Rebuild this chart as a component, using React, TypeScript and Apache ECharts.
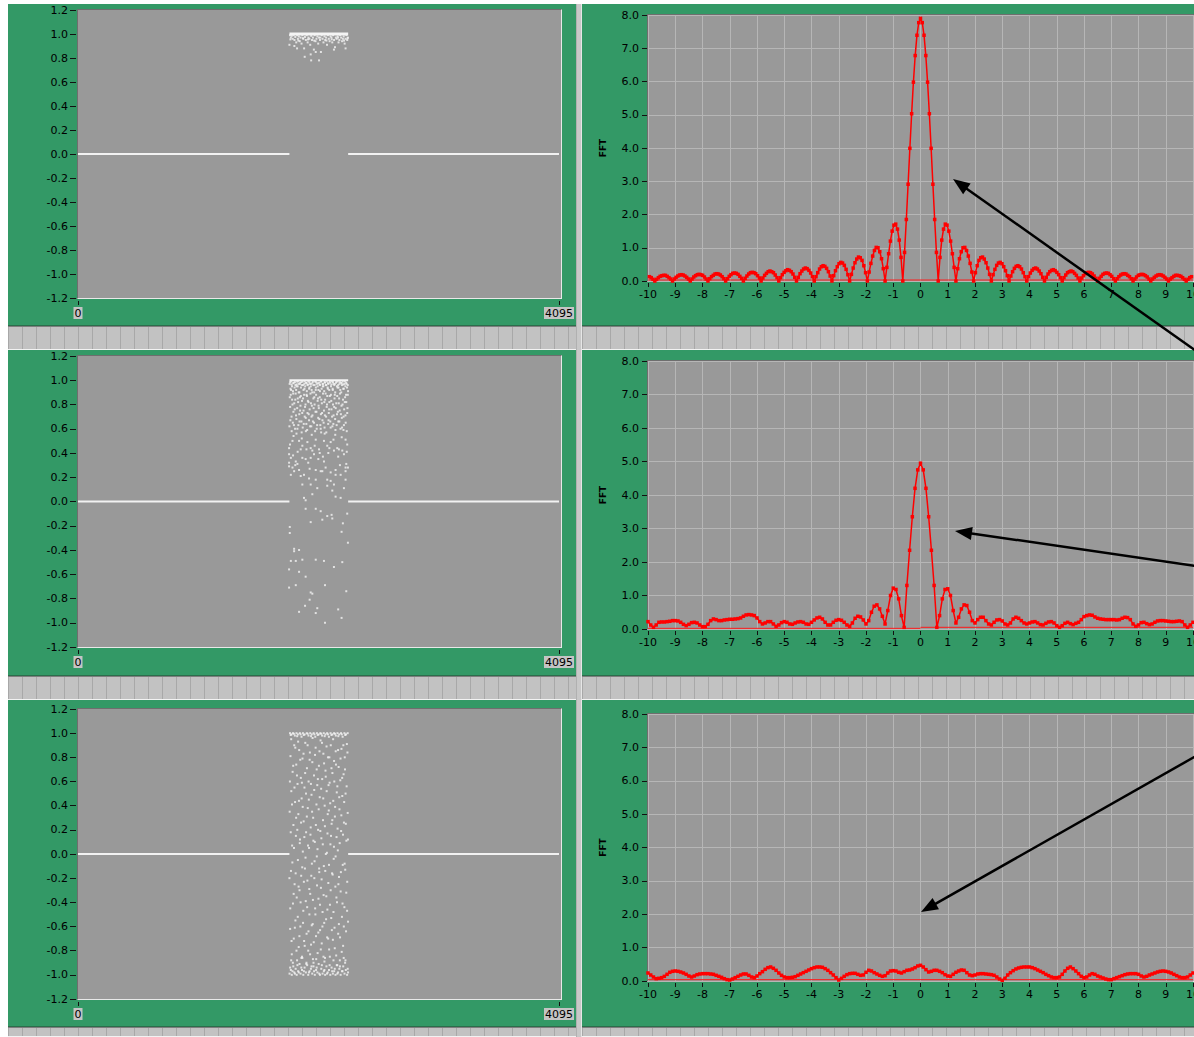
import React, { useEffect, useRef } from "react";
import * as echarts from "echarts";

// ---------------- DATA ----------------
// Left column: time-domain samples (index 0..4095)
const SAMPLE_MIN = 0;
const SAMPLE_MAX = 4095;
const SIGNAL_Y_MIN = -1.2;
const SIGNAL_Y_MAX = 1.2;
const SIGNAL_Y_STEP = 0.2;

// Runs of samples where the signal is exactly zero
const ZERO_RUNS: number[][] = [[0, 1800], [2300, 4095]];
// Run of samples clipped at 1.0 (dense band) in rows 1 and 2
const CLIPPED_RUN = [1800, 2300];
const CLIPPED_LEVEL = 1.0;

const SCATTER_1: number[][] = [
  [1805,0.99],[1812,0.97],[1820,0.985],[1828,0.96],[1835,0.99],[1843,0.95],[1850,0.975],[1858,0.93],[1866,0.99],[1872,0.96],
  [1880,0.98],[1888,0.94],[1895,0.97],[1903,0.92],[1910,0.99],[1918,0.96],[1925,0.88],[1932,0.975],[1940,0.95],[1947,0.99],
  [1955,0.93],[1962,0.97],[1970,0.96],[1977,0.91],[1985,0.985],[1992,0.95],[2000,0.97],[2008,0.87],[2015,0.99],[2022,0.94],
  [2030,0.96],[2038,0.98],[2045,0.92],[2052,0.97],[2060,0.95],[2068,0.85],[2075,0.99],[2082,0.96],[2090,0.93],[2098,0.98],
  [2105,0.95],[2112,0.97],[2120,0.91],[2128,0.99],[2135,0.96],[2142,0.94],[2150,0.98],[2158,0.97],[2165,0.93],[2172,0.99],
  [2180,0.95],[2188,0.89],[2195,0.97],[2202,0.96],[2210,0.98],[2218,0.93],[2225,0.95],[2232,0.99],[2240,0.97],[2248,0.94],
  [2255,0.96],[2262,0.98],[2270,0.92],[2278,0.96],[2285,0.99],[2292,0.95],[2298,0.97],[1800,0.91],[1865,0.88],[1930,0.81],
  [1981,0.83],[1985,0.78],[2024,0.85],[2052,0.78],[2179,0.87],[2278,0.88],[1842,0.9],[1808,0.955],[1876,0.945],[1915,0.965],
  [1958,0.955],[2011,0.945],[2063,0.97],[2115,0.945],[2160,0.955],[2214,0.97],[2265,0.945],[2295,0.965]
];

const SCATTER_2: number[][] = [
  // 0.9 .. 1.0
  [1802,0.97],[1809,0.93],[1815,0.99],[1822,0.95],[1830,0.91],[1836,0.98],[1844,0.94],[1851,0.96],[1857,0.92],[1864,0.99],
  [1870,0.95],[1878,0.97],[1885,0.9],[1892,0.98],[1898,0.94],[1905,0.96],[1912,0.99],[1920,0.92],[1927,0.97],[1934,0.95],
  [1941,0.98],[1948,0.91],[1954,0.96],[1960,0.99],[1968,0.93],[1975,0.97],[1982,0.95],[1989,0.92],[1996,0.98],[2004,0.96],
  [2011,0.9],[2018,0.99],[2025,0.94],[2032,0.97],[2040,0.95],[2047,0.92],[2054,0.98],[2061,0.96],[2067,0.99],[2074,0.93],
  [2082,0.97],[2089,0.95],[2096,0.91],[2103,0.98],[2110,0.96],[2118,0.99],[2125,0.94],[2132,0.97],[2139,0.92],[2146,0.98],
  [2154,0.95],[2161,0.99],[2168,0.93],[2175,0.97],[2182,0.96],[2190,0.9],[2197,0.98],[2204,0.95],[2211,0.99],[2218,0.94],
  [2226,0.97],[2233,0.92],[2240,0.98],[2247,0.96],[2254,0.99],[2262,0.93],[2269,0.97],[2276,0.95],[2283,0.98],[2290,0.94],
  [2297,0.96],
  [1806,0.985],[1818,0.965],[1833,0.975],[1847,0.985],[1861,0.965],[1875,0.99],[1889,0.97],[1902,0.985],[1916,0.96],[1930,0.99],
  [1945,0.975],[1958,0.965],[1971,0.985],[1986,0.97],[2000,0.99],[2014,0.96],[2028,0.985],[2043,0.975],[2057,0.965],[2071,0.99],
  [2086,0.97],[2100,0.985],[2114,0.96],[2128,0.975],[2143,0.99],[2157,0.965],[2171,0.985],[2186,0.97],[2200,0.99],[2215,0.96],
  [2229,0.985],[2244,0.975],[2258,0.965],[2272,0.99],[2287,0.97],
  // 0.55 .. 0.95
  [1800,0.62],[1806,0.78],[1811,0.88],[1818,0.7],[1823,0.84],[1829,0.65],[1834,0.74],[1841,0.81],[1848,0.6],[1853,0.89],
  [1859,0.68],[1866,0.77],[1871,0.85],[1876,0.63],[1884,0.72],[1889,0.86],[1894,0.79],[1902,0.66],[1907,0.83],[1913,0.61],
  [1920,0.75],[1925,0.88],[1930,0.7],[1937,0.8],[1944,0.64],[1949,0.87],[1954,0.73],[1962,0.82],[1967,0.67],[1972,0.76],
  [1979,0.89],[1986,0.62],[1991,0.79],[1996,0.71],[2004,0.85],[2009,0.65],[2014,0.8],[2022,0.74],[2027,0.88],[2032,0.6],
  [2040,0.83],[2045,0.69],[2050,0.77],[2058,0.86],[2063,0.63],[2068,0.72],[2076,0.81],[2081,0.67],[2086,0.89],[2094,0.75],
  [2099,0.61],[2104,0.84],[2112,0.7],[2117,0.78],[2122,0.87],[2130,0.64],[2135,0.73],[2140,0.82],[2148,0.66],[2153,0.88],
  [2158,0.76],[2166,0.62],[2171,0.8],[2176,0.71],[2184,0.85],[2189,0.68],[2194,0.77],[2202,0.63],[2207,0.87],[2212,0.74],
  [2220,0.81],[2225,0.66],[2230,0.89],[2238,0.72],[2243,0.79],[2248,0.61],[2256,0.84],[2261,0.7],[2266,0.76],[2274,0.86],
  [2279,0.65],[2284,0.82],[2292,0.73],[2297,0.88],
  [1803,0.86],[1808,0.67],[1814,0.92],[1819,0.58],[1826,0.8],[1832,0.89],[1838,0.63],[1845,0.76],[1850,0.84],[1856,0.71],
  [1861,0.95],[1868,0.6],[1874,0.82],[1879,0.9],[1886,0.66],[1891,0.75],[1897,0.87],[1904,0.57],[1909,0.73],[1916,0.85],
  [1922,0.64],[1928,0.93],[1933,0.78],[1939,0.69],[1946,0.88],[1951,0.59],[1957,0.83],[1964,0.72],[1970,0.94],[1976,0.62],
  [1983,0.81],[1988,0.7],[1994,0.9],[2000,0.66],[2006,0.77],[2012,0.86],[2019,0.58],[2024,0.92],[2030,0.74],[2036,0.63],
  [2043,0.85],[2048,0.79],[2055,0.68],[2060,0.91],[2066,0.6],[2071,0.84],[2078,0.73],[2084,0.95],[2091,0.65],[2097,0.82],
  [2102,0.71],[2108,0.89],[2114,0.57],[2120,0.8],[2127,0.93],[2133,0.67],[2138,0.76],[2144,0.87],[2151,0.61],[2156,0.83],
  [2163,0.7],[2169,0.92],[2174,0.64],[2181,0.78],[2186,0.88],[2192,0.59],[2199,0.81],[2205,0.72],[2210,0.94],[2216,0.66],
  [2223,0.85],[2228,0.75],[2235,0.6],[2241,0.9],[2246,0.69],[2252,0.8],[2259,0.93],[2264,0.63],[2271,0.82],[2277,0.71],
  [2282,0.88],[2288,0.58],[2294,0.77],[2299,0.91],
  // 0.2 .. 0.6
  [1797,0.39],[1812,0.36],[1831,0.38],[1854,0.33],[1868,0.31],[1910,0.36],[1938,0.35],[1981,0.36],[2009,0.39],[2046,0.35],
  [2094,0.33],[2131,0.4],[2179,0.42],[2221,0.43],[2264,0.39],[2284,0.31],[2298,0.28],[1840,0.25],[1896,0.21],[1924,0.22],
  [1972,0.27],[2024,0.26],[2066,0.25],[2108,0.28],[2151,0.24],[2193,0.26],[2236,0.22],[2278,0.25],[1896,0.43],[1995,0.42],
  [2052,0.43],[2122,0.46],[2207,0.44],[2250,0.42],[1826,0.5],[1882,0.5],[1953,0.49],[2024,0.51],[2094,0.5],[2151,0.49],
  [2278,0.51],[1797,0.44],[1910,0.46],[1981,0.44],[2292,0.47],[1860,0.56],[1940,0.58],[2070,0.57],[2190,0.55],[2260,0.59],
  [1805,0.47],[1835,0.54],[1870,0.41],[1905,0.52],[1945,0.43],[1990,0.55],[2015,0.46],[2058,0.4],[2100,0.56],[2140,0.44],
  [2175,0.51],[2215,0.37],[2245,0.53],[2288,0.41],[1850,0.3],[1960,0.32],[2085,0.37],[2230,0.3],
  // 0 .. 0.3
  [1910,0.14],[1981,0.14],[2037,0.11],[2122,0.13],[2179,0.14],[2264,0.11],[1924,0.03],[1938,0.01],[2193,0.04],[2236,0.03],
  [1995,0.06],[2165,0.09],[2151,0.17],[2122,0.18],[1967,0.19],[2024,0.18],[1812,0.22],[2278,0.18],[1826,0.28],[1882,0.26],
  [2080,0.25],[2193,0.22],[2278,0.28],[1797,0.32],[1797,0.29],
  // below 0
  [1938,-0.06],[2024,-0.06],[2066,-0.08],[2122,-0.12],[2165,-0.14],[2080,-0.15],[2159,-0.11],[2292,-0.1],[1981,-0.17],[1803,-0.21],
  [1803,-0.26],[2255,-0.18],[2244,-0.25],[2298,-0.34],[1840,-0.39],[1882,-0.4],[1840,-0.41],[1854,-0.49],[1910,-0.48],[2024,-0.48],
  [2094,-0.49],[1812,-0.49],[2250,-0.5],[2179,-0.54],[1797,-0.56],[1882,-0.58],[1938,-0.62],[1797,-0.71],[1854,-0.69],[2103,-0.69],
  [2284,-0.74],[1981,-0.75],[1995,-0.76],[1972,-0.81],[1933,-0.86],[2037,-0.88],[1882,-0.91],[2215,-0.89],[2024,-0.92],[2244,-0.96],
  [2103,-1.0]
];

const SCATTER_3: number[][] = [
  // top edge
  [1805,1.0],[1818,0.99],[1830,1.0],[1846,0.98],[1860,1.0],[1872,0.99],[1889,1.0],[1903,0.97],[1915,1.0],[1930,0.99],
  [1948,1.0],[1962,0.98],[1977,1.0],[1990,0.99],[2006,1.0],[2020,0.97],[2034,1.0],[2049,0.99],[2063,1.0],[2078,0.98],
  [2092,1.0],[2107,0.99],[2121,1.0],[2136,0.97],[2150,1.0],[2166,0.99],[2180,1.0],[2195,0.98],[2209,1.0],[2224,0.99],
  [2239,1.0],[2253,0.97],[2268,1.0],[2282,0.99],[2296,1.0],
  [1811,0.985],[1838,0.995],[1866,0.975],[1895,0.99],[1922,0.985],[1955,0.995],[1984,0.975],[2013,0.99],[2041,0.985],[2070,0.995],
  [2100,0.975],[2128,0.99],[2158,0.985],[2188,0.995],[2216,0.975],[2246,0.99],[2275,0.985],
  // bottom edge
  [1801,-0.99],[1812,-0.96],[1820,-1.0],[1833,-0.93],[1841,-0.98],[1853,-0.95],[1862,-1.0],[1874,-0.97],[1886,-0.91],[1895,-0.99],
  [1907,-0.96],[1918,-1.0],[1929,-0.94],[1940,-0.98],[1951,-0.92],[1960,-1.0],[1972,-0.97],[1983,-0.95],[1994,-0.99],[2005,-0.93],
  [2016,-1.0],[2027,-0.96],[2038,-0.98],[2049,-0.91],[2060,-1.0],[2071,-0.95],[2082,-0.99],[2093,-0.97],[2104,-1.0],[2115,-0.93],
  [2126,-0.98],[2137,-0.96],[2148,-1.0],[2159,-0.94],[2170,-0.99],[2181,-0.97],[2192,-1.0],[2203,-0.92],[2214,-0.98],[2225,-0.95],
  [2236,-1.0],[2247,-0.97],[2258,-0.93],[2269,-0.99],[2280,-0.96],[2291,-1.0],[2299,-0.98],
  [1806,-0.94],[1826,-0.97],[1847,-0.99],[1868,-0.92],[1880,-0.98],[1901,-0.94],[1923,-0.97],[1945,-0.9],[1966,-0.98],[1988,-0.93],
  [2010,-0.97],[2032,-0.94],[2054,-0.99],[2076,-0.92],[2098,-0.96],[2120,-0.99],[2142,-0.92],[2164,-0.97],[2186,-0.95],[2208,-0.99],
  [2230,-0.93],[2252,-0.97],[2274,-0.9],[2296,-0.95],[1815,-0.88],[1910,-0.86],[2000,-0.87],[2090,-0.85],[2175,-0.88],[2262,-0.86],
  // interior
  [1802,0.35],[1806,-0.62],[1809,0.81],[1813,-0.14],[1816,0.52],[1820,-0.83],[1823,0.07],[1827,0.68],[1830,-0.41],[1834,0.24],
  [1837,-0.7],[1841,0.9],[1844,-0.25],[1848,0.43],[1851,-0.55],[1855,0.15],[1858,0.74],[1862,-0.36],[1865,-0.88],[1869,0.58],
  [1872,-0.05],[1876,0.33],[1879,-0.77],[1883,0.86],[1886,-0.3],[1890,0.12],[1893,-0.6],[1897,0.63],[1900,-0.18],[1904,0.46],
  [1907,-0.85],[1911,0.79],[1914,0.02],[1918,-0.47],[1921,0.27],[1925,-0.72],[1928,0.55],[1932,-0.12],[1935,0.92],[1939,-0.39],
  [1942,0.18],[1946,-0.66],[1949,0.71],[1953,-0.22],[1956,0.38],[1960,-0.8],[1963,0.6],[1967,0.05],[1970,-0.5],[1974,0.84],
  [1977,-0.33],[1981,0.22],[1984,-0.75],[1988,0.49],[1991,-0.08],[1995,0.76],[1998,-0.58],[2002,0.3],[2005,-0.9],[2009,0.65],
  [2012,-0.2],[2016,0.1],[2019,-0.45],[2023,0.88],[2026,-0.68],[2030,0.41],[2033,-0.02],[2037,0.57],[2040,-0.82],[2044,0.2],
  [2047,-0.37],[2051,0.73],[2054,-0.15],[2058,0.47],[2061,-0.63],[2065,0.94],[2068,-0.28],[2072,0.13],[2075,-0.74],[2079,0.62],
  [2082,-0.48],[2086,0.28],[2089,0.83],[2093,-0.1],[2096,-0.57],[2100,0.4],[2103,-0.86],[2107,0.69],[2110,0.0],[2114,-0.35],
  [2117,0.52],[2121,-0.69],[2124,0.17],[2128,0.8],[2131,-0.24],[2135,0.36],[2138,-0.79],[2142,0.59],[2145,-0.42],[2149,0.08],
  [2152,0.9],[2156,-0.53],[2159,0.25],[2163,-0.16],[2166,0.67],[2170,-0.71],[2173,0.44],[2177,-0.04],[2180,0.77],[2184,-0.61],
  [2187,0.31],[2191,-0.27],[2194,0.85],[2198,-0.84],[2201,0.14],[2205,-0.4],[2208,0.56],[2212,0.03],[2215,-0.66],[2219,0.72],
  [2222,-0.19],[2226,0.37],[2229,-0.88],[2233,0.61],[2236,-0.31],[2240,0.19],[2243,0.87],[2247,-0.52],[2250,0.48],[2254,-0.09],
  [2257,-0.76],[2261,0.66],[2264,0.26],[2268,-0.44],[2271,0.8],[2275,-0.13],[2278,0.5],[2282,-0.64],[2285,0.11],[2289,0.91],
  [2292,-0.23],[2296,0.34],[2299,-0.56],
  [1800,-0.2],[1804,0.6],[1807,-0.45],[1811,0.18],[1815,0.95],[1818,-0.72],[1822,0.41],[1825,-0.07],[1829,-0.9],[1832,0.73],
  [1836,-0.33],[1839,0.05],[1843,0.55],[1846,-0.61],[1850,0.88],[1853,-0.16],[1857,0.3],[1860,-0.8],[1864,0.65],[1867,0.2],
  [1871,-0.52],[1874,0.93],[1878,-0.27],[1881,0.44],[1885,-0.68],[1888,0.09],[1892,0.78],[1895,-0.4],[1899,0.26],[1902,-0.86],
  [1906,0.59],[1909,-0.11],[1913,0.39],[1916,-0.57],[1920,0.83],[1923,-0.23],[1927,0.14],[1930,-0.76],[1934,0.67],[1937,-0.03],
  [1941,0.5],[1944,-0.91],[1948,0.31],[1951,-0.44],[1955,0.9],[1958,0.07],[1962,-0.64],[1965,0.45],[1969,-0.29],[1972,0.78],
  [1976,-0.83],[1979,0.16],[1983,0.58],[1986,-0.18],[1990,-0.59],[1993,0.35],[1997,0.96],[2000,-0.38],[2004,0.11],[2007,-0.73],
  [2011,0.53],[2014,-0.06],[2018,0.82],[2021,-0.5],[2025,0.24],[2028,-0.87],[2032,0.7],[2035,-0.26],[2039,0.04],[2042,0.62],
  [2046,-0.65],[2049,0.37],[2053,-0.12],[2056,0.85],[2060,-0.42],[2063,0.19],[2067,-0.79],[2070,0.54],[2074,-0.21],[2077,0.92],
  [2081,-0.6],[2084,0.08],[2088,0.46],[2091,-0.34],[2095,0.75],[2098,-0.89],[2102,0.23],[2105,-0.14],[2109,0.64],[2112,-0.54],
  [2116,0.89],[2119,0.01],[2123,-0.46],[2126,0.33],[2130,-0.7],[2133,0.57],[2137,-0.09],[2140,0.8],[2144,-0.85],[2147,0.42],
  [2151,-0.3],[2154,0.15],[2158,0.71],[2161,-0.63],[2165,0.28],[2168,-0.17],[2172,0.95],[2175,-0.48],[2179,0.06],[2182,0.6],
  [2186,-0.78],[2189,0.39],[2193,-0.02],[2196,0.74],[2200,-0.36],[2203,0.51],[2207,-0.92],[2210,0.21],[2214,0.86],[2217,-0.25],
  [2221,-0.58],[2224,0.47],[2228,0.09],[2231,-0.69],[2235,0.79],[2238,-0.15],[2242,0.32],[2245,-0.81],[2249,0.63],[2252,-0.41],
  [2256,0.16],[2259,0.9],[2263,-0.6],[2266,0.43],[2270,-0.08],[2273,0.7],[2277,-0.88],[2280,0.25],[2284,-0.32],[2287,0.56],
  [2291,-0.47],[2294,0.84],[2298,0.12]
];

// Right column: FFT magnitude
const FFT_X_MIN = -10;
const FFT_X_MAX = 10;
const FFT_X_STEP = 1;
const FFT_Y_MIN = 0;
const FFT_Y_MAX = 8;
const FFT_Y_STEP = 1;

// Row 1 sampled at 0.065 starting at -9.945
const FFT_1_X0 = -9.945;
const FFT_1_DX = 0.065;
const FFT_1: number[] = [
  0.13,0.10,0.05,
  0,0.05,0.10,0.14,0.16,0.17,0.17,0.14,0.10,0.06,
  0,0.06,0.11,0.15,0.18,0.19,0.18,0.15,0.11,0.06,
  0,0.06,0.12,0.16,0.19,0.20,0.19,0.17,0.12,0.06,
  0,0.07,0.13,0.17,0.21,0.22,0.21,0.18,0.13,0.07,
  0,0.07,0.14,0.19,0.23,0.24,0.23,0.20,0.14,0.08,
  0,0.08,0.15,0.21,0.25,0.26,0.25,0.22,0.16,0.09,
  0,0.09,0.17,0.23,0.28,0.30,0.28,0.25,0.18,0.10,
  0,0.10,0.19,0.26,0.31,0.34,0.32,0.28,0.21,0.11,
  0,0.11,0.22,0.30,0.36,0.39,0.37,0.32,0.24,0.13,
  0,0.13,0.25,0.36,0.43,0.46,0.44,0.38,0.28,0.15,
  0,0.16,0.31,0.43,0.52,0.56,0.54,0.47,0.35,0.19,
  0,0.20,0.39,0.55,0.66,0.72,0.70,0.62,0.46,0.25,
  0,0.27,0.53,0.75,0.92,1.01,1.00,0.88,0.67,0.37,
  0,0.41,0.82,1.20,1.50,1.68,1.71,1.56,1.23,0.71,
  0,0.86,1.85,2.91,3.99,5.03,5.98,6.78,7.39,7.77,
  7.90,
  7.77,7.39,6.78,5.98,5.03,3.99,2.91,1.85,0.86,0,
  0.71,1.23,1.56,1.71,1.68,1.50,1.20,0.82,0.41,0,
  0.37,0.67,0.88,1.00,1.01,0.92,0.75,0.53,0.27,0,
  0.25,0.46,0.62,0.70,0.72,0.66,0.55,0.39,0.20,0,
  0.19,0.35,0.47,0.54,0.56,0.52,0.43,0.31,0.16,0,
  0.15,0.28,0.38,0.44,0.46,0.43,0.36,0.25,0.13,0,
  0.13,0.24,0.32,0.37,0.39,0.36,0.30,0.22,0.11,0,
  0.11,0.21,0.28,0.32,0.34,0.31,0.26,0.19,0.10,0,
  0.10,0.18,0.25,0.28,0.30,0.28,0.23,0.17,0.09,0,
  0.09,0.16,0.22,0.25,0.26,0.25,0.21,0.15,0.08,0,
  0.08,0.14,0.20,0.23,0.24,0.23,0.19,0.14,0.07,0,
  0.07,0.13,0.18,0.21,0.22,0.21,0.17,0.13,0.07,0,
  0.06,0.12,0.17,0.19,0.20,0.19,0.16,0.12,0.06,0,
  0.06,0.11,0.15,0.18,0.19,0.18,0.15,0.11,0.06,0,
  0.06,0.10,0.14,0.17,0.17,0.16,0.14,0.10,0.05,0,
  0.05,0.10,0.13
];

// Rows 2 and 3 sampled at 0.1 from -10 to 10
const FFT_23_X0 = -10;
const FFT_23_DX = 0.1;
const FFT_2: number[] = [
  0.22,0.12,0.05,0.12,0.2,0.21,0.21,0.22,0.23,0.25,
  0.25,0.24,0.2,0.14,0.1,0.14,0.19,0.2,0.18,0.12,
  0.07,0.07,0.14,0.25,0.3,0.28,0.25,0.25,0.27,0.28,
  0.29,0.29,0.3,0.31,0.33,0.38,0.42,0.43,0.42,0.4,
  0.33,0.22,0.15,0.18,0.22,0.22,0.15,0.08,0.12,0.19,
  0.22,0.2,0.15,0.14,0.18,0.21,0.22,0.2,0.15,0.14,
  0.2,0.27,0.33,0.35,0.3,0.2,0.12,0.12,0.2,0.26,
  0.28,0.26,0.2,0.12,0.08,0.18,0.32,0.38,0.36,0.27,
  0.15,0.25,0.5,0.68,0.72,0.6,0.38,0.15,0.55,1.0,
  1.22,1.18,0.9,0.4,0.05,1.3,2.35,3.35,4.2,4.75,
  4.95,
  4.75,4.2,3.35,2.35,1.3,0.05,0.4,0.9,1.18,1.2,
  1.0,0.55,0.18,0.35,0.6,0.72,0.7,0.5,0.25,0.18,
  0.28,0.35,0.35,0.25,0.15,0.12,0.2,0.27,0.28,0.24,
  0.15,0.12,0.18,0.3,0.35,0.32,0.25,0.18,0.15,0.18,
  0.21,0.22,0.18,0.13,0.12,0.17,0.21,0.22,0.18,0.1,
  0.05,0.1,0.17,0.2,0.16,0.13,0.17,0.2,0.28,0.37,
  0.4,0.42,0.41,0.36,0.32,0.3,0.29,0.28,0.28,0.28,
  0.28,0.27,0.28,0.32,0.35,0.34,0.28,0.15,0.08,0.12,
  0.19,0.2,0.16,0.13,0.15,0.2,0.24,0.25,0.25,0.24,
  0.23,0.22,0.22,0.23,0.24,0.22,0.12,0.05,0.12,0.2
];
const FFT_3: number[] = [
  0.24,0.18,0.12,0.07,0.08,0.1,0.14,0.2,0.26,0.29,
  0.3,0.29,0.27,0.24,0.2,0.15,0.12,0.15,0.19,0.21,
  0.22,0.22,0.22,0.21,0.2,0.17,0.14,0.11,0.07,0.04,
  0.03,0.06,0.1,0.14,0.18,0.21,0.21,0.17,0.12,0.1,
  0.15,0.22,0.28,0.35,0.4,0.42,0.38,0.32,0.24,0.17,
  0.12,0.1,0.1,0.11,0.13,0.17,0.21,0.25,0.29,0.33,
  0.37,0.4,0.42,0.42,0.41,0.37,0.32,0.25,0.18,0.1,
  0.03,0.08,0.14,0.19,0.22,0.23,0.23,0.2,0.17,0.18,
  0.26,0.32,0.3,0.25,0.21,0.17,0.14,0.16,0.24,0.3,
  0.31,0.3,0.26,0.24,0.28,0.32,0.33,0.36,0.4,0.45,
  0.47,
  0.42,0.34,0.27,0.29,0.32,0.32,0.29,0.25,0.19,0.15,
  0.14,0.2,0.26,0.3,0.33,0.32,0.25,0.18,0.16,0.18,
  0.21,0.22,0.22,0.21,0.2,0.19,0.17,0.12,0.06,0.02,
  0.08,0.18,0.25,0.31,0.36,0.39,0.41,0.42,0.42,0.42,
  0.4,0.37,0.33,0.29,0.25,0.2,0.16,0.12,0.1,0.1,
  0.12,0.2,0.3,0.38,0.42,0.37,0.3,0.22,0.14,0.1,
  0.12,0.18,0.22,0.2,0.15,0.12,0.09,0.06,0.04,0.04,
  0.07,0.1,0.13,0.16,0.19,0.21,0.22,0.22,0.22,0.2,
  0.15,0.12,0.14,0.18,0.21,0.24,0.27,0.29,0.3,0.29,
  0.27,0.24,0.2,0.16,0.12,0.1,0.1,0.12,0.18,0.24
];

// Near-zero second trace (thin red line) per row, as segments
const FFT_FLOOR_1: number[][][] = [[[-10, 0.03], [10, 0.03]]];
const FFT_FLOOR_2: number[][][] = [[[-10, 0.02], [0, 0.02]], [[0, 0.05], [10, 0.05]]];
const FFT_FLOOR_3: number[][][] = [[[-10, 0.04], [10, 0.04]]];

const FFT_NAME = "FFT";

// ---------------- LAYOUT ----------------
const PAGE_W = 1194;
const PAGE_H = 1037;
const ROWS = [
  { panelTop: 4, panelBottom: 326, sigTop: 10, sigH: 288, fftTop: 15, fftH: 266 },
  { panelTop: 350, panelBottom: 676, sigTop: 356, sigH: 291, fftTop: 361, fftH: 268 },
  { panelTop: 700, panelBottom: 1027, sigTop: 709, sigH: 290, fftTop: 714, fftH: 267 },
];
const SEPARATORS = [
  { top: 326, height: 24 },
  { top: 676, height: 24 },
  { top: 1027, height: 10 },
];
const SIG_LEFT = 78;
const SIG_W = 481;
const FFT_LEFT = 648;
const FFT_W = 545;
const PANEL_L_X0 = 8;
const PANEL_L_X1 = 576;
const PANEL_R_X0 = 582;

const ARROWS = [
  { tail: [1196, 351], tip: [953, 179] },
  { tail: [1196, 566], tip: [955, 531] },
  { tail: [1196, 756], tip: [921, 912] },
];

const GREEN = "#339966";
const PLOT_BG = "#999999";
const FONT = "DejaVu Sans";

const SCATTERS = [SCATTER_1, SCATTER_2, SCATTER_3];
const BAND_WIDTHS = [3, 2, 0];
const FFT_SETS = [
  { values: FFT_1, x0: FFT_1_X0, dx: FFT_1_DX, floor: FFT_FLOOR_1 },
  { values: FFT_2, x0: FFT_23_X0, dx: FFT_23_DX, floor: FFT_FLOOR_2 },
  { values: FFT_3, x0: FFT_23_X0, dx: FFT_23_DX, floor: FFT_FLOOR_3 },
];

function fmt1(v: number) {
  const n = Math.abs(v) < 1e-9 ? 0 : v;
  return n.toFixed(1);
}

function arrowGraphics() {
  const out: any[] = [];
  ARROWS.forEach((a) => {
    const [tx, ty] = a.tip;
    const [sx, sy] = a.tail;
    const dx = sx - tx, dy = sy - ty;
    const L = Math.hypot(dx, dy);
    const ux = dx / L, uy = dy / L;
    const headLen = 17, half = 6.5;
    const bx = tx + ux * headLen, by = ty + uy * headLen;
    const px = -uy * half, py = ux * half;
    out.push({
      type: "line",
      z: 100,
      shape: { x1: bx - ux * 2, y1: by - uy * 2, x2: sx, y2: sy },
      style: { stroke: "#000", lineWidth: 2.5 },
      silent: true,
    });
    out.push({
      type: "polygon",
      z: 101,
      shape: { points: [[tx, ty], [bx + px, by + py], [bx - px, by - py]] },
      style: { fill: "#000" },
      silent: true,
    });
  });
  return out;
}

function buildOption() {
  const grid: any[] = [];
  const xAxis: any[] = [];
  const yAxis: any[] = [];
  const series: any[] = [];
  const labelStyle = { fontFamily: FONT, fontSize: 11, color: "#000" };

  ROWS.forEach((r, i) => {
    const gl = 2 * i;
    const gr = 2 * i + 1;
    grid.push({ left: SIG_LEFT, top: r.sigTop, width: SIG_W, height: r.sigH, show: false, containLabel: false, outerBoundsMode: "none" });
    grid.push({ left: FFT_LEFT, top: r.fftTop, width: FFT_W, height: r.fftH, show: false, containLabel: false, outerBoundsMode: "none" });

    xAxis.push({
      type: "value", gridIndex: gl, min: SAMPLE_MIN, max: SAMPLE_MAX, interval: SAMPLE_MAX - SAMPLE_MIN,
      position: "bottom", offset: 3, axisLine: { show: false, onZero: false },
      axisTick: { show: true, length: 4, lineStyle: { color: "#111" } },
      axisLabel: { ...labelStyle, margin: 6, backgroundColor: "#c4c4c4", padding: [1, 1, 0, 1], formatter: (v: number) => String(v) },
      splitLine: { show: false },
    });
    yAxis.push({
      type: "value", gridIndex: gl, min: SIGNAL_Y_MIN, max: SIGNAL_Y_MAX, interval: SIGNAL_Y_STEP,
      position: "left", offset: 2, axisLine: { show: false, onZero: false },
      axisTick: { show: true, length: 6, lineStyle: { color: "#111" } },
      axisLabel: { ...labelStyle, margin: 8, formatter: fmt1 },
      splitLine: { show: false },
    });
    xAxis.push({
      type: "value", gridIndex: gr, min: FFT_X_MIN, max: FFT_X_MAX, interval: FFT_X_STEP,
      position: "bottom", offset: 2, axisLine: { show: false, onZero: false },
      axisTick: { show: true, length: 4, lineStyle: { color: "#111" } },
      axisLabel: { ...labelStyle, margin: 6, formatter: (v: number) => String(v) },
      splitLine: { show: true, lineStyle: { color: "#b6b6b6", width: 1 } },
    });
    yAxis.push({
      type: "value", gridIndex: gr, min: FFT_Y_MIN, max: FFT_Y_MAX, interval: FFT_Y_STEP,
      position: "left", offset: 1, axisLine: { show: false, onZero: false },
      axisTick: { show: true, length: 5, lineStyle: { color: "#111" } },
      axisLabel: { ...labelStyle, margin: 8, formatter: fmt1 },
      splitLine: { show: true, lineStyle: { color: "#b6b6b6", width: 1 } },
      name: FFT_NAME, nameLocation: "middle", nameGap: 40, nameRotate: 90,
      nameTextStyle: { fontFamily: FONT, fontSize: 9, fontWeight: "bold", color: "#000" },
    });

    ZERO_RUNS.forEach((run) => {
      series.push({
        type: "line", xAxisIndex: gl, yAxisIndex: gl, silent: true,
        data: [[run[0], 0], [run[1], 0]], showSymbol: false,
        lineStyle: { color: "#f2f2f2", width: 2 },
      });
    });
    if (BAND_WIDTHS[i] > 0) {
      series.push({
        type: "line", xAxisIndex: gl, yAxisIndex: gl, silent: true,
        data: [[CLIPPED_RUN[0], CLIPPED_LEVEL], [CLIPPED_RUN[1], CLIPPED_LEVEL]], showSymbol: false,
        lineStyle: { color: "#f4f4f4", width: BAND_WIDTHS[i] },
      });
    }
    series.push({
      type: "scatter", xAxisIndex: gl, yAxisIndex: gl, silent: true,
      data: SCATTERS[i], symbol: "rect", symbolSize: 2,
      itemStyle: { color: "#f4f4f4" },
    });

    const fs = FFT_SETS[i];
    fs.floor.forEach((seg) => {
      series.push({
        type: "line", xAxisIndex: gr, yAxisIndex: gr, silent: true,
        data: seg, showSymbol: false,
        lineStyle: { color: "#ff1a1a", width: 1 },
      });
    });
    series.push({
      type: "line", xAxisIndex: gr, yAxisIndex: gr, silent: true,
      data: fs.values.map((v, k) => [+(fs.x0 + k * fs.dx).toFixed(4), v]),
      symbol: "rect", symbolSize: 3.5, showSymbol: true, showAllSymbol: true,
      lineStyle: { color: "#ff0000", width: 1.5 },
      itemStyle: { color: "#ff0000" },
    });
  });

  return {
    animation: false,
    backgroundColor: "transparent",
    grid, xAxis, yAxis, series,
    graphic: { elements: arrowGraphics() },
  };
}

export default function App() {
  const ref = useRef<HTMLDivElement>(null);
  useEffect(() => {
    if (!ref.current) return;
    const chart = echarts.init(ref.current, undefined, { renderer: "svg" });
    chart.setOption(buildOption() as any);
    return () => chart.dispose();
  }, []);

  const abs = (s: any) => ({ position: "absolute" as const, boxSizing: "border-box" as const, ...s });

  return (
    <div style={abs({ left: 0, top: 0, width: PAGE_W, height: PAGE_H, background: "#fff", overflow: "hidden" })}>
      {SEPARATORS.map((s, i) => (
        <div key={"sep" + i} style={abs({
          left: PANEL_L_X0, top: s.top, width: PAGE_W - PANEL_L_X0, height: s.height,
          background: "repeating-linear-gradient(to right, #a8a8a8 0px, #a8a8a8 1px, #c2c2c2 1px, #c2c2c2 14px)",
          borderTop: "1px solid #7e7e7e", borderBottom: "1px solid #f2f2f2",
        })} />
      ))}
      <div style={abs({
        left: PANEL_L_X1, top: ROWS[0].panelTop, width: PANEL_R_X0 - PANEL_L_X1, height: PAGE_H - ROWS[0].panelTop,
        background: "#c8c8c8", borderLeft: "1px solid #b0b0b0", borderRight: "1px solid #e6e6e6",
      })} />
      {ROWS.map((r, i) => (
        <React.Fragment key={"row" + i}>
          <div style={abs({ left: PANEL_L_X0, top: r.panelTop, width: PANEL_L_X1 - PANEL_L_X0, height: r.panelBottom - r.panelTop, background: GREEN, borderBottom: "1px solid #2b6e4b" })} />
          <div style={abs({ left: PANEL_R_X0, top: r.panelTop, width: PAGE_W - PANEL_R_X0, height: r.panelBottom - r.panelTop, background: GREEN, borderBottom: "1px solid #2b6e4b" })} />
          <div style={abs({
            left: SIG_LEFT - 1, top: r.sigTop - 1, width: SIG_W + 4, height: r.sigH + 2,
            background: PLOT_BG, borderTop: "1px solid #6e6e6e", borderLeft: "1px solid #6e6e6e",
            borderRight: "1px solid #e8e8e8", borderBottom: "1px solid #e8e8e8",
          })} />
          <div style={abs({
            left: FFT_LEFT - 1, top: r.fftTop - 1, width: FFT_W + 20, height: r.fftH + 2,
            background: PLOT_BG, borderTop: "1px solid #6e6e6e", borderLeft: "1px solid #6e6e6e",
            borderBottom: "1px solid #e8e8e8",
          })} />
        </React.Fragment>
      ))}
      <div ref={ref} style={abs({ left: 0, top: 0, width: PAGE_W, height: PAGE_H })} />
    </div>
  );
}
